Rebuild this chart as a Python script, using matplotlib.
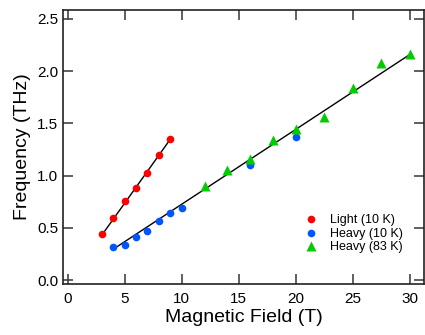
import matplotlib.pyplot as plt
import numpy as np

plt.rcParams['font.family'] = ['Liberation Sans', 'DejaVu Sans']

# Light hole, 10 K
light_b = [3, 4, 5, 6, 7, 8, 9]
light_f = [0.44, 0.59, 0.76, 0.88, 1.03, 1.20, 1.35]

# Heavy hole, 10 K
heavy10_b = [4, 5, 6, 7, 8, 9, 10, 16, 20]
heavy10_f = [0.32, 0.34, 0.415, 0.47, 0.565, 0.64, 0.69, 1.10, 1.37]

# Heavy hole, 83 K
heavy83_b = [12, 14, 16, 18, 20, 22.5, 25, 27.5, 30]
heavy83_f = [0.90, 1.05, 1.16, 1.34, 1.45, 1.565, 1.84, 2.08, 2.16]

# linear fits (slope, intercept) and field ranges
light_fit = (0.153, -0.029)
light_range = [3, 9]
heavy_fit = (0.0717, 0.009)
heavy_range = [4.1, 30]

fig = plt.figure(figsize=(4.25, 3.35), dpi=100)
ax = fig.add_axes([0.148, 0.152, 0.85, 0.818])

xr = np.array(light_range)
ax.plot(xr, light_fit[0] * xr + light_fit[1], color='black', lw=1)
xr = np.array(heavy_range)
ax.plot(xr, heavy_fit[0] * xr + heavy_fit[1], color='black', lw=1)

ax.plot(light_b, light_f, 'o', color='#ff0000', ms=5.5, mec='none', label='Light (10 K)')
ax.plot(heavy10_b, heavy10_f, 'o', color='#0055ff', ms=5.5, mec='none', label='Heavy (10 K)')
ax.plot(heavy83_b, heavy83_f, '^', color='#00cc00', ms=6.5, mec='none', label='Heavy (83 K)')

ax.set_xlim(-0.41, 31.25)
ax.set_ylim(-0.038, 2.585)
ax.set_xticks([0, 5, 10, 15, 20, 25, 30])
ax.set_yticks([0.0, 0.5, 1.0, 1.5, 2.0, 2.5])
ax.set_yticklabels(['0.0', '0.5', '1.0', '1.5', '2.0', '2.5'])

ax.tick_params(direction='in', length=7, width=1.2, color='#444444',
               labelsize=11, top=True, right=True)
ax.tick_params(axis='x', pad=6)
for s in ax.spines.values():
    s.set_linewidth(1.2)
    s.set_color('#222222')

ax.set_xlabel('Magnetic Field (T)', fontsize=14, labelpad=2)
ax.set_ylabel('Frequency (THz)', fontsize=14, labelpad=4)

ax.legend(loc='lower right', bbox_to_anchor=(0.965, 0.08), frameon=False,
          fontsize=9, handletextpad=0.9, labelspacing=0.12, handlelength=1.2,
          borderpad=0.2)

fig.savefig('out.png', dpi=100)
